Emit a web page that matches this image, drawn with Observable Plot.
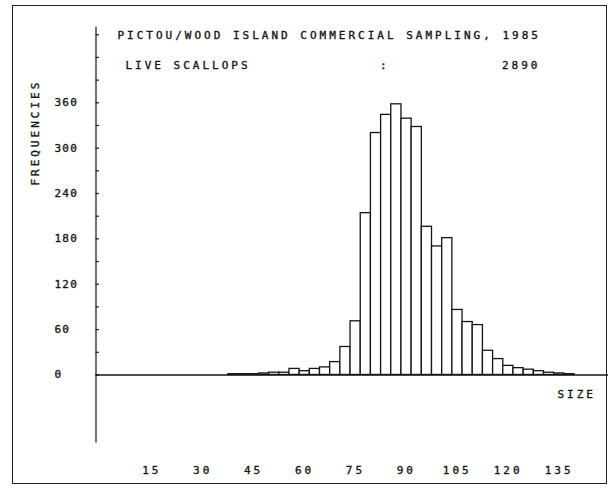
<!DOCTYPE html>
<html>
<head>
<meta charset="utf-8">
<script src="https://cdn.jsdelivr.net/npm/d3@7"></script>
<script src="https://cdn.jsdelivr.net/npm/@observablehq/plot@0.6"></script>
<style>
  html, body { margin: 0; padding: 0; background: #fff; }
  #wrap { position: relative; width: 612px; height: 489px; }
  #border { position: absolute; left: 12px; top: 5px; width: 595px; height: 479px; border: 1.2px solid #222; box-sizing: border-box; pointer-events: none; }
  svg text { font-family: "DejaVu Sans Mono", monospace; letter-spacing: 3px; stroke: #151515; stroke-width: 0.35px; }
  svg g[aria-label="y-axis tick label"] text { letter-spacing: 1.2px; }
  svg g[aria-label="x-axis tick label"] text { letter-spacing: 3px; }
</style>
</head>
<body>
<div id="wrap"><div id="border"></div></div>
<script>
// Data
const titleLine = "PICTOU/WOOD ISLAND COMMERCIAL SAMPLING, 1985";
const speciesLabel = "LIVE SCALLOPS";
const totalCount = "2890";
const binLower = [38, 41, 44, 47, 50, 53, 56, 59, 62, 65, 68, 71, 74, 77, 80, 83, 86, 89, 92, 95, 98, 101, 104, 107, 110, 113, 116, 119, 122, 125, 128, 131, 134, 137];
const frequencies = [1, 1, 1, 2, 3, 3, 8, 5, 8, 10, 17, 37, 71, 214, 320, 344, 358, 339, 328, 196, 170, 181, 86, 70, 66, 32, 21, 12, 9, 7, 5, 3, 2, 1];
const binWidth = 3;
const xTickLabels = [15, 30, 45, 60, 75, 90, 105, 120, 135];
const yTickLabels = [0, 60, 120, 180, 240, 300, 360];
const yTickMarks = [0, 30, 60, 90, 120, 150, 180, 210, 240, 270, 300, 330, 360, 390, 420, 450];

const bars = binLower.map((b, i) => ({x1: b, x2: b + binWidth, y: frequencies[i]}));
const ink = "#151515";
const fs = 11;

const chart = Plot.plot({
  width: 612,
  height: 489,
  marginLeft: 95.5,
  marginRight: 4,
  marginTop: 26.7,
  marginBottom: 46.5,
  style: {background: "transparent", color: ink},
  x: {domain: [-1, 150], label: null},
  y: {domain: [-90, 460], label: null},
  marks: [
    Plot.rectY(bars, {x1: "x1", x2: "x2", y: "y", fill: "white", stroke: ink, strokeWidth: 1.3}),
    Plot.ruleY([0], {stroke: ink, strokeWidth: 1.6}),
    Plot.ruleX([-1], {stroke: ink, strokeWidth: 1.2}),
    Plot.ruleY(yTickMarks, {x1: -1, x2: 0, stroke: ink, strokeWidth: 1.2}),
    Plot.axisY({ticks: yTickLabels, tickSize: 0, tickPadding: 41.5, textAnchor: "start", fontSize: fs, fill: ink, label: null}),
    Plot.axisX({ticks: xTickLabels, tickSize: 0, tickPadding: 23, dx: 1.5, fontSize: fs, fill: ink, label: null}),
    Plot.text([titleLine], {text: d => d, frameAnchor: "top-left", lineAnchor: "middle", dx: 21.5, dy: 8.3, textAnchor: "start", fontSize: fs, fill: ink}),
    Plot.text([speciesLabel], {text: d => d, frameAnchor: "top-left", lineAnchor: "middle", dx: 29.5, dy: 38.3, textAnchor: "start", fontSize: fs, fill: ink}),
    Plot.text([":"], {text: d => d, frameAnchor: "top-left", lineAnchor: "middle", dx: 284, dy: 38.3, textAnchor: "start", fontSize: fs, fill: ink}),
    Plot.text([totalCount], {text: d => d, frameAnchor: "top-left", lineAnchor: "middle", dx: 444.5, dy: 38.3, textAnchor: "end", fontSize: fs, fill: ink}),
    Plot.text(["FREQUENCIES"], {text: d => d, frameAnchor: "top-left", lineAnchor: "middle", dx: -60.5, dy: 158.3, rotate: -90, textAnchor: "start", fontSize: fs, fill: ink}),
    Plot.text(["SIZE"], {text: d => d, frameAnchor: "top-left", lineAnchor: "middle", dx: 461.5, dy: 366.8, textAnchor: "start", fontSize: fs, fill: ink})
  ]
});
document.getElementById("wrap").appendChild(chart);
chart.style.position = "absolute";
chart.style.left = "0px";
chart.style.top = "0px";
</script>
</body>
</html>
